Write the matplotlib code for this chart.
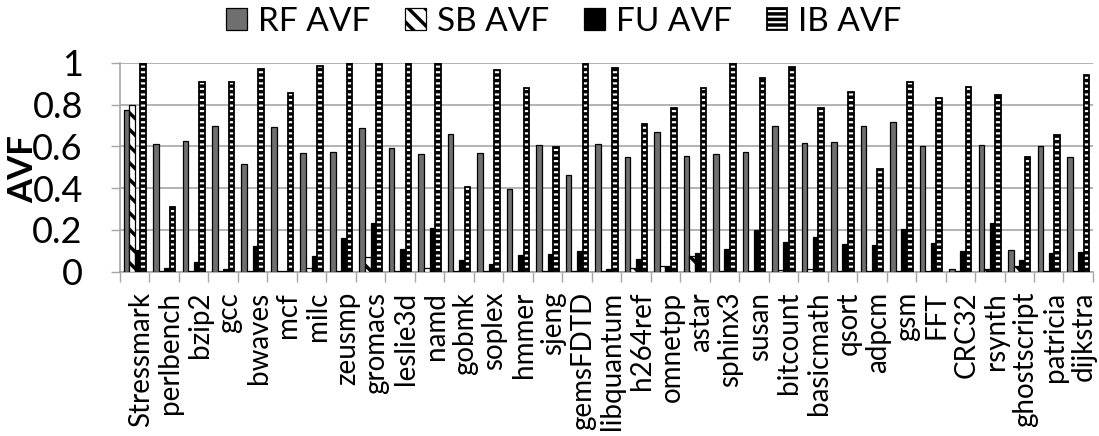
import numpy as np
import matplotlib
matplotlib.use("Agg")
import matplotlib.pyplot as plt
import matplotlib.transforms as mtransforms

# -------------------------------
# DATA
# -------------------------------

benchmarks = ["Stressmark", "perlbench", "bzip2", "gcc", "bwaves", "mcf", "milc",
              "zeusmp", "gromacs", "leslie3d", "namd", "gobmk", "soplex", "hmmer",
              "sjeng", "gemsFDTD", "libquantum", "h264ref", "omnetpp", "astar",
              "sphinx3", "susan", "bitcount", "basicmath", "qsort", "adpcm", "gsm",
              "FFT", "CRC32", "rsynth", "ghostscript", "patricia", "dijkstra"]

rf_avf = [0.774, 0.609, 0.625, 0.699, 0.515, 0.694, 0.566, 0.574, 0.686, 0.592,
          0.563, 0.657, 0.566, 0.396, 0.606, 0.463, 0.609, 0.549, 0.668, 0.552,
          0.561, 0.571, 0.697, 0.614, 0.620, 0.699, 0.716, 0.603, 0.012, 0.608,
          0.104, 0.603, 0.547]

sb_avf = [0.800, 0.005, 0.003, 0.005, 0.003, 0.003, 0.016, 0.005, 0.072, 0.003,
          0.020, 0.003, 0.003, 0.005, 0.005, 0.003, 0.005, 0.020, 0.025, 0.075,
          0.003, 0.003, 0.010, 0.013, 0.003, 0.003, 0.003, 0.003, 0.003, 0.015,
          0.027, 0.005, 0.003]

fu_avf = [0.104, 0.018, 0.045, 0.014, 0.123, 0.005, 0.077, 0.160, 0.232, 0.109,
          0.208, 0.055, 0.035, 0.080, 0.086, 0.099, 0.014, 0.061, 0.025, 0.088,
          0.107, 0.200, 0.144, 0.167, 0.133, 0.129, 0.206, 0.136, 0.100, 0.232,
          0.056, 0.091, 0.092]

ib_avf = [1.000, 0.308, 0.908, 0.908, 0.968, 0.855, 0.983, 1.000, 1.000, 1.000,
          1.000, 0.407, 0.965, 0.880, 0.597, 1.000, 0.976, 0.705, 0.782, 0.877,
          1.000, 0.928, 0.980, 0.785, 0.861, 0.491, 0.909, 0.833, 0.885, 0.845,
          0.550, 0.656, 0.943]

# -------------------------------
# STYLE
# -------------------------------

plt.rcParams['font.family'] = ['Lato', 'DejaVu Sans']
plt.rcParams['hatch.linewidth'] = 2.5
plt.rcParams['hatch.color'] = 'black'

grid_gray = '#A6A6A6'

fig = plt.figure(figsize=(10.99, 4.36), dpi=100)
ax = fig.add_axes([0.1092, 0.3768, 0.8853, 0.4794])

x = np.arange(len(benchmarks))
w = 0.19

ax.bar(x - 1.5 * w, rf_avf, w, color='#6F6F6F', edgecolor='black', linewidth=0.9,
       label='RF AVF', zorder=3)
ax.bar(x - 0.5 * w, sb_avf, w, color='white', edgecolor='black', linewidth=0.9,
       hatch='\\\\', label='SB AVF', zorder=3)
ax.bar(x + 0.5 * w, fu_avf, w, color='black', edgecolor='black', linewidth=0.9,
       label='FU AVF', zorder=3)
ax.bar(x + 1.5 * w, ib_avf, w, color='white', edgecolor='black', linewidth=1.3,
       hatch='---', label='IB AVF', zorder=3)

# -------------------------------
# AXES
# -------------------------------

ax.set_xlim(-0.5, len(benchmarks) - 0.5)
ax.set_ylim(0, 1)
ax.set_yticks([0, 0.2, 0.4, 0.6, 0.8, 1.0])
ax.set_yticklabels(['0', '0.2', '0.4', '0.6', '0.8', '1'])

ax.set_xticks(x)
ax.set_xticklabels(benchmarks, rotation=90, fontsize=20)
ax.set_xticks(np.arange(len(benchmarks) + 1) - 0.5, minor=True)
ax.tick_params(axis='x', which='major', length=0, pad=14.5)
ax.tick_params(axis='x', which='minor', length=7.2, color=grid_gray, width=1.0)
ax.tick_params(axis='y', length=6.8, color=grid_gray, width=1.0, pad=20,
               labelsize=26)

# nudge the rotated names a little to the right of the group centre
shift = mtransforms.ScaledTranslation(6 / 100, 0, fig.dpi_scale_trans)
for lbl in ax.get_xticklabels():
    lbl.set_transform(lbl.get_transform() + shift)

ax.yaxis.grid(True, color=grid_gray, linewidth=1.2, zorder=0)
ax.set_axisbelow(True)
for side in ['top', 'right']:
    ax.spines[side].set_visible(False)
for side in ['left', 'bottom']:
    ax.spines[side].set_color(grid_gray)
    ax.spines[side].set_linewidth(1.2)

ax.set_ylabel('AVF', fontsize=25, fontweight='bold', va='center')
ax.yaxis.set_label_coords(-0.100, 0.49)

ax.legend(loc='center', bbox_to_anchor=(564 / 1099, 1 - 22 / 436),
          bbox_transform=fig.transFigure, ncol=4, frameon=False, fontsize=24,
          handlelength=0.62, handleheight=0.65, handletextpad=0.33,
          columnspacing=1.05, borderpad=0)

fig.savefig("out.png", dpi=100)
